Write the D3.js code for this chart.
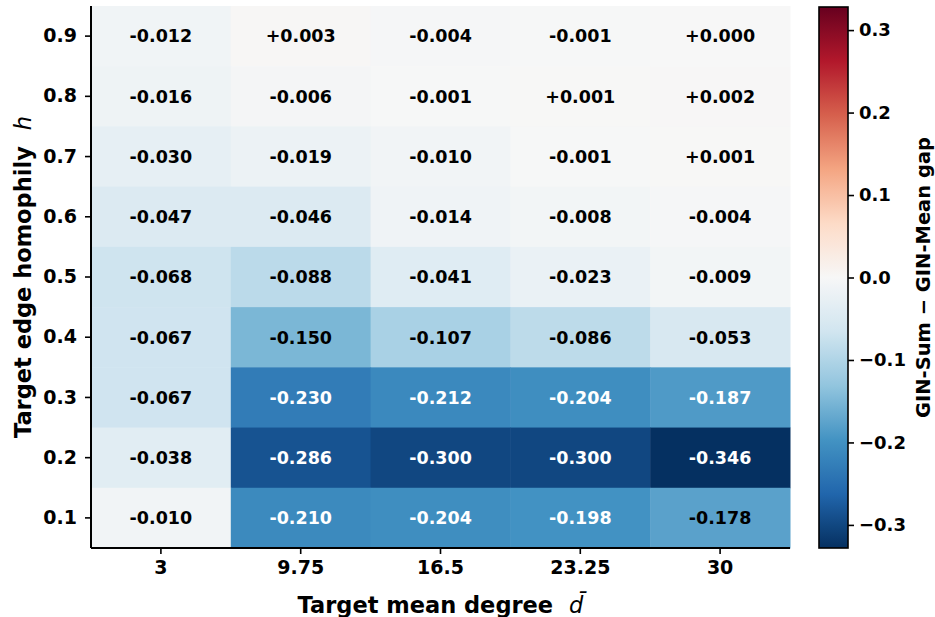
<!DOCTYPE html>
<html>
<head>
<meta charset="utf-8">
<script src="https://cdn.jsdelivr.net/npm/d3@7"></script>
<style>
  body { margin: 0; background: #fff; }
  svg { font-family: "DejaVu Sans", sans-serif; font-weight: bold; }
</style>
</head>
<body>
<svg id="chart"></svg>
<script>
// mean degree (columns) and homophily (rows, top to bottom)
const degrees = ["3", "9.75", "16.5", "23.25", "30"];
const homophily = ["0.9", "0.8", "0.7", "0.6", "0.5", "0.4", "0.3", "0.2", "0.1"];
// GIN-Sum minus GIN-Mean gap, one row per homophily level
const gap = [
  [-0.012, 0.003, -0.004, -0.001, 0.000],
  [-0.016, -0.006, -0.001, 0.001, 0.002],
  [-0.030, -0.019, -0.010, -0.001, 0.001],
  [-0.047, -0.046, -0.014, -0.008, -0.004],
  [-0.068, -0.088, -0.041, -0.023, -0.009],
  [-0.067, -0.150, -0.107, -0.086, -0.053],
  [-0.067, -0.230, -0.212, -0.204, -0.187],
  [-0.038, -0.286, -0.300, -0.300, -0.346],
  [-0.010, -0.210, -0.204, -0.198, -0.178]
];
const cbTicks = [-0.3, -0.2, -0.1, 0.0, 0.1, 0.2, 0.3];

const width = 935, height = 617;
const vmax = 0.328;
const mLeft = 91, mRight = 790, mTop = 6, mBottom = 548;

// RdBu reversed, piecewise linear like matplotlib
const palette = ["#053061", "#2166ac", "#4393c3", "#92c5de", "#d1e5f0", "#f7f7f7",
                 "#fddbc7", "#f4a582", "#d6604d", "#b2182b", "#67001f"];
const color = d3.scaleLinear()
  .domain(d3.range(palette.length).map(i => -vmax + 2 * vmax * i / (palette.length - 1)))
  .range(palette)
  .interpolate(d3.interpolateRgb)
  .clamp(true);

const svg = d3.select("#chart")
  .attr("width", width)
  .attr("height", height)
  .attr("viewBox", [0, 0, width, height]);

const x = d3.scaleBand().domain(degrees).range([mLeft, mRight]);
const y = d3.scaleBand().domain(homophily).range([mTop, mBottom]);
const fmt = d3.formatLocale({decimal: ".", thousands: ",", grouping: [3], currency: ["", ""], minus: "-"}).format("+.3f");

const cells = gap.flatMap((row, i) => row.map((v, j) => ({h: homophily[i], d: degrees[j], v})));

svg.append("g")
  .selectAll("rect")
  .data(cells)
  .join("rect")
    .attr("x", d => x(d.d))
    .attr("y", d => y(d.h))
    .attr("width", x.bandwidth() + 0.5)
    .attr("height", y.bandwidth() + 0.5)
    .attr("fill", d => color(d.v));

svg.append("g")
  .selectAll("text")
  .data(cells)
  .join("text")
    .attr("x", d => x(d.d) + x.bandwidth() / 2)
    .attr("y", d => y(d.h) + y.bandwidth() / 2)
    .attr("dy", "0.36em")
    .attr("text-anchor", "middle")
    .attr("font-size", 17.5)
    .attr("fill", d => Math.abs(d.v) > 0.18 ? "#fff" : "#000")
    .text(d => fmt(d.v));

// axes
const xAxis = svg.append("g")
  .attr("transform", `translate(0,${mBottom})`)
  .call(d3.axisBottom(x).tickSize(6).tickPadding(7));
const yAxis = svg.append("g")
  .attr("transform", `translate(${mLeft},0)`)
  .call(d3.axisLeft(y).tickSize(6).tickPadding(8));
for (const ax of [xAxis, yAxis]) {
  ax.attr("font-family", null).attr("font-size", 19);
  ax.select(".domain").attr("stroke-width", 2).attr("stroke", "#000");
  ax.selectAll(".tick line").attr("stroke-width", 1.6).attr("stroke", "#000");
  ax.selectAll(".tick text").attr("fill", "#000");
}
xAxis.select(".domain").attr("d", `M${mLeft},0H${mRight}`);
yAxis.select(".domain").attr("d", `M0,${mTop}V${mBottom}`);

// axis titles
const xt = svg.append("text")
  .attr("x", (mLeft + mRight) / 2)
  .attr("y", 613)
  .attr("text-anchor", "middle")
  .attr("font-size", 22.5);
xt.append("tspan").text("Target mean degree");
xt.append("tspan").attr("dx", 16).attr("font-style", "italic").attr("font-weight", "normal").text("d\u0304");

const yt = svg.append("text")
  .attr("transform", `translate(31,${(mTop + mBottom) / 2}) rotate(-90)`)
  .attr("text-anchor", "middle")
  .attr("font-size", 22.5);
yt.append("tspan").text("Target edge homophily");
yt.append("tspan").attr("dx", 16).attr("font-style", "italic").attr("font-weight", "normal").text("h");

// colorbar
const cbX = 819, cbW = 29, cbTop = 7, cbBottom = 548;
const cb = d3.scaleLinear().domain([-vmax, vmax]).range([cbBottom, cbTop]);
const defs = svg.append("defs");
const grad = defs.append("linearGradient")
  .attr("id", "cbgrad")
  .attr("x1", 0).attr("y1", 1).attr("x2", 0).attr("y2", 0);
grad.selectAll("stop")
  .data(d3.range(0, 1.0001, 0.02))
  .join("stop")
    .attr("offset", t => t)
    .attr("stop-color", t => color(-vmax + 2 * vmax * t));
svg.append("rect")
  .attr("x", cbX).attr("y", cbTop)
  .attr("width", cbW).attr("height", cbBottom - cbTop)
  .attr("fill", "url(#cbgrad)")
  .attr("stroke", "#000")
  .attr("stroke-width", 1.6);
const cbAxis = svg.append("g")
  .attr("transform", `translate(${cbX + cbW},0)`)
  .call(d3.axisRight(cb).tickValues(cbTicks).tickFormat(d3.format(".1f")).tickSize(6).tickPadding(5));
cbAxis.attr("font-family", null).attr("font-size", 18);
cbAxis.select(".domain").remove();
cbAxis.selectAll(".tick line").attr("stroke-width", 1.6).attr("stroke", "#000");
cbAxis.selectAll(".tick text").attr("fill", "#000");

svg.append("text")
  .attr("transform", `translate(930,${(cbTop + cbBottom) / 2}) rotate(-90)`)
  .attr("text-anchor", "middle")
  .attr("font-size", 19.5)
  .text("GIN-Sum \u2212 GIN-Mean gap");
</script>
</body>
</html>
